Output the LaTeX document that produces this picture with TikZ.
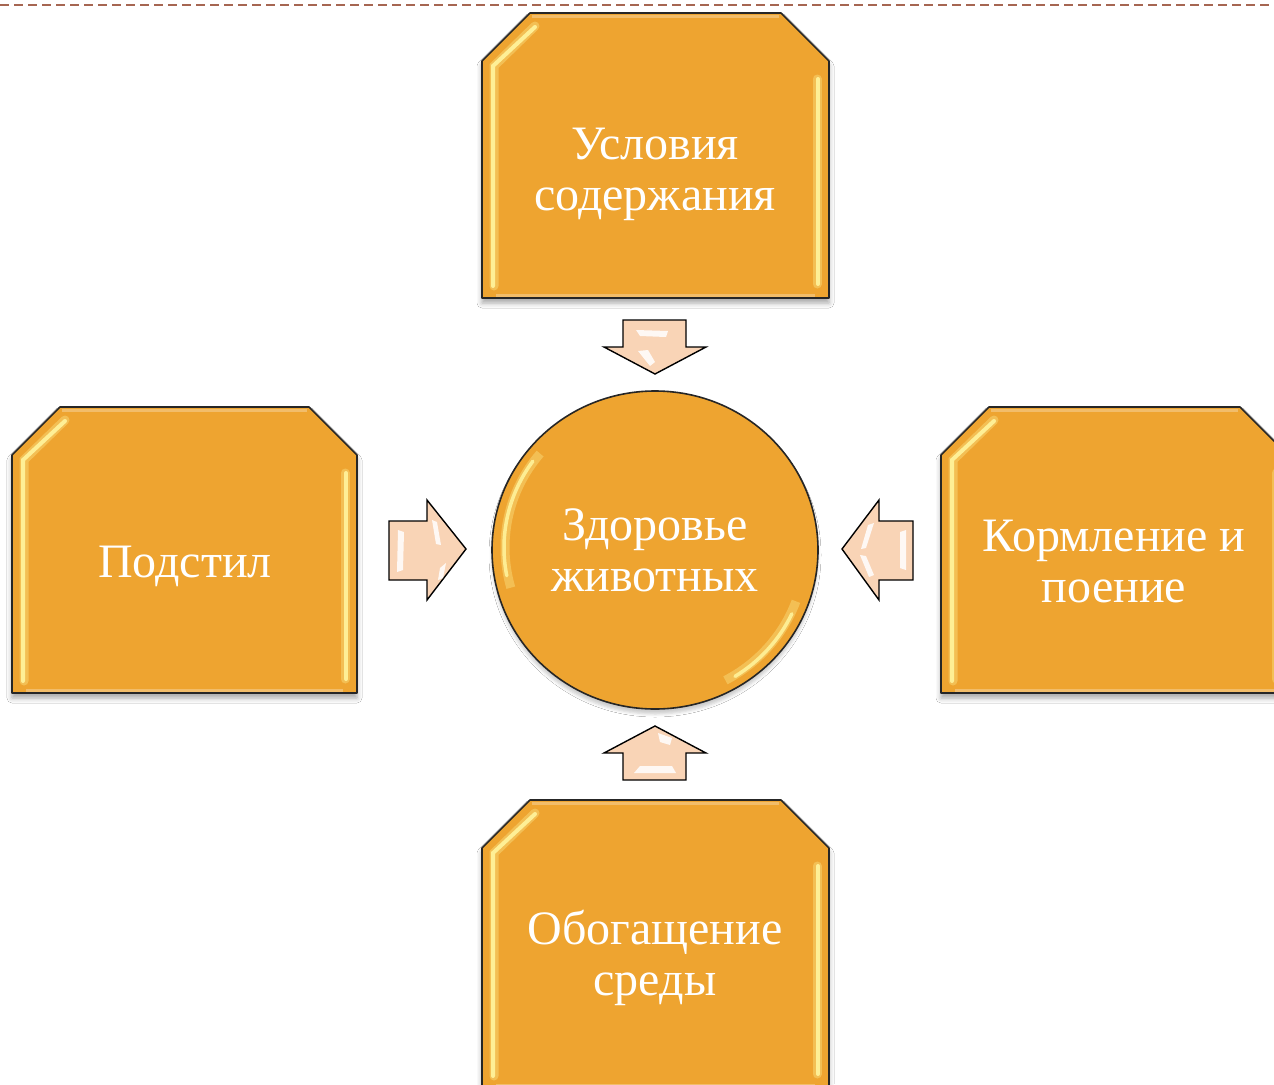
\documentclass[tikz,border=0pt]{standalone}
\usepackage{fontspec}
\setmainfont{Liberation Serif}
\usetikzlibrary{shadows.blur}
\definecolor{orng}{HTML}{EEA430}
\definecolor{peach}{HTML}{F9D4B6}
\definecolor{dashc}{RGB}{166,102,82}
\definecolor{hlyel}{HTML}{FFF29A}
\tikzset{
  boxshape/.style={fill=orng, draw=black!85, line width=1.6pt, line join=round,
    blur shadow={shadow xshift=0pt, shadow yshift=-5pt, shadow opacity=35, shadow blur radius=5pt}},
  hlsoft/.style={draw=hlyel, line width=9pt, opacity=0.35, line cap=round},
  hlhard/.style={draw=hlyel, line width=4pt, opacity=0.95, line cap=round},
  rim/.style={draw=orng!60!white, line width=3pt, opacity=0.7},
  arrowshape/.style={fill=peach, draw=black, line width=1.4pt, line join=miter},
  glint/.style={fill=white, opacity=0.85},
  lbl/.style={text=white, align=center, font=\fontsize{48}{51}\selectfont, inner sep=0pt},
}
\newcommand\chbox[4]{% L T R B
  \path[boxshape] (#1,#2+48) -- (#1+48,#2) -- (#3-48,#2) -- (#3,#2+48) -- (#3,#4) -- (#1,#4) -- cycle;
  \draw[rim] (#1+50,#2+3) -- (#3-50,#2+3);
  \draw[rim] (#1+14,#4-3) -- (#3-14,#4-3);
  \draw[hlsoft] (#1+12,#4-12) -- (#1+12,#2+53) -- (#1+53,#2+13);
  \draw[hlhard] (#1+11,#4-12) -- (#1+11,#2+53) -- (#1+53,#2+14);
  \draw[hlsoft] (#3-12,#2+66) -- (#3-12,#4-14);
  \draw[hlhard] (#3-11,#2+66) -- (#3-11,#4-14);
}
\begin{document}
\begin{tikzpicture}[x=1pt,y=-1pt]
\useasboundingbox (0,0) rectangle (1274,1084);
\clip (0,0) rectangle (1274,1084);
\fill[white] (0,0) rectangle (1274,1084);
% dashed top line
\coordinate (dl) at (0,5);
\coordinate (dr) at (1274,5);
\draw[dashc, line width=2.8pt, dash pattern=on 9pt off 5pt] (dl) -- (dr);
% boxes
\chbox{482}{13}{829}{298}
\chbox{12}{407}{357}{693}
\chbox{941}{407}{1288}{693}
\chbox{482}{800}{829}{1088}
% circle
\path[fill=orng, draw=black!85, line width=1.6pt,
  blur shadow={shadow xshift=0pt, shadow yshift=-5pt, shadow opacity=20, shadow blur radius=3pt}]
  (655,550) ellipse [x radius=163, y radius=159];
% highlights (angles negated because the y axis points down)
\draw[hlyel, line width=9pt, opacity=0.35] (655,550) ++(-140:150) arc[start angle=-140, end angle=-196, x radius=150, y radius=146];
\draw[hlyel, line width=3.5pt, opacity=0.9, line cap=round] (655,550) ++(-144:151) arc[start angle=-144, end angle=-191, x radius=151, y radius=147];
\draw[hlyel, line width=9pt, opacity=0.35] (655,550) ++(20:150) arc[start angle=20, end angle=62, x radius=150, y radius=146];
\draw[hlyel, line width=3.5pt, opacity=0.9, line cap=round] (655,550) ++(25:151) arc[start angle=25, end angle=58, x radius=151, y radius=147];
% arrows
\path[arrowshape] (623,320) -- (686,320) -- (686,347) -- (706,347) -- (655,374) -- (604,347) -- (623,347) -- cycle;
\fill[glint] (636,330) -- (668,331) -- (666,337) -- (640,336) -- cycle;
\fill[glint] (638,351) -- (648,350) -- (655,362) -- (650,366) -- cycle;
\path[arrowshape] (655,726) -- (706,753) -- (686,753) -- (686,780) -- (623,780) -- (623,753) -- (604,753) -- cycle;
\fill[glint] (658,733) -- (672,738) -- (670,745) -- (660,742) -- cycle;
\fill[glint] (640,766) -- (672,766) -- (676,773) -- (634,773) -- cycle;
\path[arrowshape] (389,521) -- (427,521) -- (427,500) -- (466,549) -- (427,600) -- (427,580) -- (389,580) -- cycle;
\fill[glint] (398,530) -- (404,532) -- (403,570) -- (397,572) -- cycle;
\fill[glint] (432,520) -- (437,522) -- (441,545) -- (436,544) -- cycle;
\fill[glint] (440,568) -- (446,563) -- (443,578) -- (438,580) -- cycle;
\path[arrowshape] (842,549) -- (879,500) -- (879,521) -- (913,521) -- (913,580) -- (879,580) -- (879,600) -- cycle;
\fill[glint] (900,532) -- (906,530) -- (906,570) -- (900,568) -- cycle;
\fill[glint] (868,525) -- (874,523) -- (866,548) -- (861,549) -- cycle;
\fill[glint] (860,555) -- (866,556) -- (874,575) -- (869,577) -- cycle;
% labels
\node[lbl] (usl) at (655,174) {Условия\\содержания};
\node[lbl] (pod) at (185,566) {Подстил};
\node[lbl] (korm) at (1114,562) {Кормление и\\поение};
\node[lbl] (zdr) at (655,550) {Здоровье\\животных};
\node[lbl] (obog) at (655,958) {Обогащение\\среды};
\end{tikzpicture}
\end{document}
